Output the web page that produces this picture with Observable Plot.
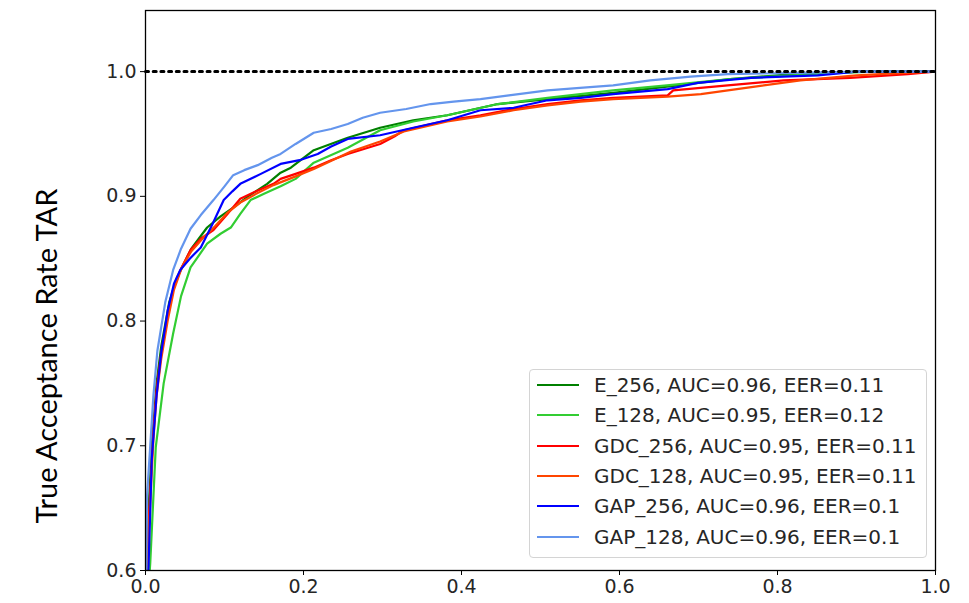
<!DOCTYPE html>
<html><head><meta charset="utf-8">
<script src="https://cdn.jsdelivr.net/npm/d3@7"></script>
<script src="https://cdn.jsdelivr.net/npm/@observablehq/plot@0.6"></script>
<style>
body{margin:0;background:#fff;}
#wrap{position:relative;width:969px;height:603px;overflow:hidden;}
#ylab{position:absolute;left:45px;top:356px;transform:translate(-50%,-50%) rotate(-90deg);font-family:Lato,"Liberation Sans",sans-serif;font-size:29px;white-space:nowrap;color:#000;}
#legend{position:absolute;left:529px;top:369px;width:396px;height:187px;border:1px solid #d4d4d4;border-radius:4px;background:rgba(255,255,255,0.85);font-family:"DejaVu Sans";font-size:20px;color:#262626;}
.row{position:absolute;left:0;height:30px;display:flex;align-items:center;}
.sw{width:42px;height:0;border-top:2.5px solid;margin-left:7px;margin-right:15px;}
</style></head><body>
<div id="wrap"><div id="chart"></div><div id="ylab">True Acceptance Rate TAR</div><div id="legend"></div></div>
<script>
const seriesNames = ["E_256","E_128","GDC_256","GDC_128","GAP_256","GAP_128"];
const seriesColors = ["#008000","#32cd32","#ff0000","#ff4500","#0000ff","#6495ed"];
const legendLabels = [
  "E_256, AUC=0.96, EER=0.11",
  "E_128, AUC=0.95, EER=0.12",
  "GDC_256, AUC=0.95, EER=0.11",
  "GDC_128, AUC=0.95, EER=0.11",
  "GAP_256, AUC=0.96, EER=0.1",
  "GAP_128, AUC=0.96, EER=0.1"
];
const xTicks = [0,0.2,0.4,0.6,0.8,1.0];
const yTicks = [0.6,0.7,0.8,0.9,1.0];
const refX = [0,1];
const refY = 1.0;

const E_256_fpr = [0,0.004,0.008,0.014,0.020,0.030,0.040,0.058,0.078,0.095,0.111,0.130,0.154,0.171,0.184,0.213,0.256,0.297,0.339,0.382,0.446,0.509,0.592,0.66,0.74,0.82,0.9,1];
const E_256_tar = [0.55,0.65,0.70,0.75,0.78,0.815,0.835,0.858,0.875,0.884,0.891,0.900,0.910,0.919,0.923,0.937,0.947,0.955,0.961,0.965,0.974,0.978,0.983,0.988,0.994,0.998,1,1];

const E_128_fpr = [0,0.006,0.013,0.023,0.035,0.045,0.057,0.078,0.095,0.108,0.120,0.133,0.150,0.171,0.190,0.213,0.256,0.297,0.339,0.382,0.446,0.509,0.592,0.66,0.74,0.82,0.88,0.92,1];
const E_128_tar = [0.55,0.606,0.699,0.75,0.79,0.82,0.843,0.862,0.870,0.875,0.886,0.897,0.902,0.908,0.914,0.927,0.939,0.953,0.960,0.965,0.974,0.979,0.985,0.989,0.994,0.997,0.999,1,1];

const GDC_256_fpr = [0,0.004,0.010,0.014,0.019,0.027,0.035,0.045,0.057,0.070,0.086,0.104,0.120,0.140,0.162,0.171,0.190,0.213,0.235,0.256,0.297,0.315,0.327,0.382,0.424,0.466,0.509,0.551,0.592,0.661,0.668,0.737,0.808,0.892,0.965,1];
const GDC_256_tar = [0.55,0.64,0.712,0.745,0.770,0.80,0.825,0.842,0.857,0.866,0.873,0.886,0.898,0.904,0.910,0.914,0.918,0.923,0.929,0.934,0.942,0.948,0.953,0.961,0.965,0.970,0.974,0.977,0.979,0.981,0.985,0.989,0.993,0.995,0.998,1];

const GDC_128_fpr = [0,0.004,0.010,0.014,0.020,0.028,0.036,0.046,0.058,0.072,0.088,0.104,0.120,0.140,0.162,0.190,0.213,0.240,0.260,0.297,0.327,0.382,0.424,0.466,0.509,0.551,0.592,0.661,0.703,0.76,0.829,0.9,0.96,1];
const GDC_128_tar = [0.55,0.63,0.705,0.74,0.77,0.80,0.825,0.843,0.856,0.866,0.876,0.887,0.895,0.902,0.909,0.916,0.922,0.930,0.936,0.944,0.952,0.960,0.964,0.969,0.973,0.976,0.978,0.980,0.982,0.987,0.993,0.997,0.999,1];

const GAP_256_fpr = [0,0.004,0.008,0.014,0.020,0.028,0.036,0.044,0.056,0.070,0.085,0.099,0.110,0.120,0.146,0.171,0.195,0.218,0.235,0.256,0.297,0.339,0.382,0.424,0.466,0.509,0.551,0.592,0.661,0.699,0.766,0.851,0.9,1];
const GAP_256_tar = [0.55,0.606,0.69,0.74,0.775,0.808,0.83,0.841,0.85,0.859,0.878,0.897,0.904,0.910,0.918,0.926,0.929,0.934,0.940,0.946,0.949,0.955,0.961,0.969,0.971,0.977,0.979,0.982,0.986,0.991,0.995,0.997,1,1];

const GAP_128_fpr = [0,0.002,0.006,0.010,0.015,0.025,0.035,0.045,0.057,0.070,0.086,0.100,0.111,0.125,0.142,0.160,0.171,0.190,0.213,0.235,0.256,0.275,0.297,0.330,0.361,0.390,0.424,0.460,0.509,0.550,0.592,0.639,0.690,0.737,0.829,0.9,1];
const GAP_128_tar = [0.55,0.66,0.70,0.74,0.776,0.815,0.841,0.858,0.874,0.885,0.897,0.908,0.917,0.921,0.925,0.931,0.934,0.942,0.951,0.954,0.958,0.963,0.967,0.970,0.974,0.976,0.978,0.981,0.985,0.987,0.989,0.993,0.996,0.998,0.999,1,1];

const fprs = [E_256_fpr,E_128_fpr,GDC_256_fpr,GDC_128_fpr,GAP_256_fpr,GAP_128_fpr];
const tars = [E_256_tar,E_128_tar,GDC_256_tar,GDC_128_tar,GAP_256_tar,GAP_128_tar];

const rows = [];
seriesNames.forEach((s,i)=>fprs[i].forEach((f,j)=>rows.push({series:s, fpr:f, tar:tars[i][j]})));
const refRows = refX.map(x=>({x, y:refY}));

const chart = Plot.plot({
  width:969, height:603,
  marginLeft:145, marginRight:34, marginTop:10, marginBottom:33,
  style:{fontFamily:"DejaVu Sans", fontSize:"19px", color:"#262626", background:"#fff"},
  x:{domain:[0,1]},
  y:{domain:[0.6,1.049]},
  color:{domain:seriesNames, range:seriesColors},
  marks:[
    Plot.line(rows,{x:"fpr", y:"tar", z:"series", stroke:"series", strokeWidth:2.2, clip:true}),
    Plot.line(refRows,{x:"x", y:"y", stroke:"#000", strokeWidth:3, strokeDasharray:"3,4.7"}),
    Plot.axisX({ticks:xTicks, tickFormat:d3.format(".1f"), tickSize:5, tickPadding:4, label:null, fontSize:19, stroke:"#000"}),
    Plot.axisY({ticks:yTicks, tickFormat:d3.format(".1f"), tickSize:5, tickPadding:4, label:null, fontSize:19, stroke:"#000"}),
    Plot.frame({stroke:"#000", strokeWidth:1.3})
  ]
});
document.getElementById("chart").appendChild(chart);

const leg = document.getElementById("legend");
legendLabels.forEach((t,i)=>{
  const r = document.createElement("div");
  r.className="row"; r.style.top = (0 + i*30.3)+"px";
  const sw = document.createElement("div"); sw.className="sw"; sw.style.borderTopColor = seriesColors[i];
  const tx = document.createElement("span"); tx.textContent = t;
  r.appendChild(sw); r.appendChild(tx); leg.appendChild(r);
});
</script>
</body></html>
